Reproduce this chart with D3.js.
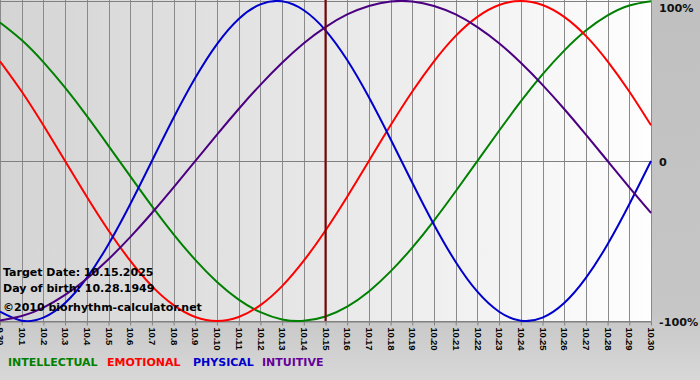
<!DOCTYPE html>
<html><head><meta charset="utf-8">
<script src="https://cdn.jsdelivr.net/npm/d3@7"></script>
<style>html,body{margin:0;padding:0;background:#c4c4c4;}svg{display:block;}</style>
</head><body><svg id="c" width="700" height="380"></svg>
<script>
const days = ["9.30","10.1","10.2","10.3","10.4","10.5","10.6","10.7","10.8","10.9","10.10","10.11","10.12","10.13","10.14","10.15","10.16","10.17","10.18","10.19","10.20","10.21","10.22","10.23","10.24","10.25","10.26","10.27","10.28","10.29","10.30"];
const intellectual = [0.866,0.756,0.618,0.458,0.282,0.095,-0.095,-0.282,-0.458,-0.618,-0.756,-0.866,-0.945,-0.990,-0.999,-0.972,-0.910,-0.815,-0.690,-0.541,-0.372,-0.189,0,0.189,0.372,0.541,0.690,0.815,0.910,0.972,0.999];
const emotional = [0.623,0.434,0.223,0,-0.223,-0.434,-0.623,-0.782,-0.901,-0.975,-1.000,-0.975,-0.901,-0.782,-0.623,-0.434,-0.223,0,0.223,0.434,0.623,0.782,0.901,0.975,1.000,0.975,0.901,0.782,0.623,0.434,0.223];
const physical = [-0.942,-0.998,-0.979,-0.888,-0.731,-0.520,-0.270,0,0.270,0.520,0.731,0.888,0.979,0.998,0.942,0.817,0.631,0.398,0.136,-0.136,-0.398,-0.631,-0.817,-0.942,-0.998,-0.979,-0.888,-0.731,-0.520,-0.270,0];
const intuitive = [-0.997,-0.969,-0.916,-0.837,-0.736,-0.614,-0.476,-0.325,-0.165,0,0.165,0.325,0.476,0.614,0.736,0.837,0.916,0.969,0.997,0.997,0.969,0.916,0.837,0.736,0.614,0.476,0.325,0.165,0,-0.165,-0.325];
const yTicks = [1, 0, -1];
const yTickLabels = ["100%", "0", "-100%"];
const targetDay = "10.15";
const infoLines = ["Target Date: 10.15.2025", "Day of birth: 10.28.1949", "©2010 biorhythm-calculator.net"];
const seriesNames = ["INTELLECTUAL", "EMOTIONAL", "PHYSICAL", "INTUITIVE"];

const svg = d3.select("#c");
const W = 700, H = 380;
const L = 0, R = 651, T = 1, B = 321;

const defs = svg.append("defs");
const bg = defs.append("linearGradient").attr("id","bg").attr("x1",0).attr("y1",0).attr("x2",0).attr("y2",1);
bg.append("stop").attr("offset","0").attr("stop-color","#c0c0c0");
bg.append("stop").attr("offset","0.82").attr("stop-color","#c6c6c6");
bg.append("stop").attr("offset","1").attr("stop-color","#d8d8d8");
const pg = defs.append("linearGradient").attr("id","pg").attr("x1",0).attr("y1",0).attr("x2",1).attr("y2",0);
pg.append("stop").attr("offset","0").attr("stop-color","#d4d4d4");
pg.append("stop").attr("offset","0.5").attr("stop-color","#e8e8e8");
pg.append("stop").attr("offset","1").attr("stop-color","#fefefe");

svg.append("rect").attr("width",W).attr("height",H).attr("fill","url(#bg)");
svg.append("rect").attr("x",L).attr("y",0).attr("width",R-L).attr("height",B).attr("fill","url(#pg)");

const x = d3.scalePoint().domain(days).range([L, R]);
const y = d3.scaleLinear().domain([-1, 1]).range([B, T]);

// vertical grid
svg.append("g").selectAll("line").data(days).join("line")
  .attr("x1", d => Math.round(x(d)) + 0.5).attr("x2", d => Math.round(x(d)) + 0.5)
  .attr("y1", 0).attr("y2", B)
  .attr("stroke", "#8a8a8a").attr("stroke-width", 1);
// horizontal lines
svg.append("g").selectAll("line").data(yTicks).join("line")
  .attr("x1", L).attr("x2", R)
  .attr("y1", d => Math.round(y(d)) + 0.5).attr("y2", d => Math.round(y(d)) + 0.5)
  .attr("stroke", "#808080");

// x axis
const xAxis = svg.append("g").attr("transform", `translate(0,${B + 0.5})`)
  .call(d3.axisBottom(x).tickSize(4).tickSizeOuter(0));
xAxis.select(".domain").attr("stroke", "#808080");
xAxis.selectAll(".tick line").attr("stroke", "#808080");
xAxis.selectAll(".tick text")
  .attr("transform", "rotate(90)")
  .attr("x", 6).attr("y", 0).attr("dy", "0.35em")
  .attr("text-anchor", "start")
  .attr("font-family", "'Liberation Sans', Arial, sans-serif")
  .attr("font-weight", "bold")
  .attr("font-size", 9.5).attr("letter-spacing", -0.2).attr("fill", "#000");

// y labels right
svg.append("g").selectAll("text").data(yTicks).join("text")
  .attr("x", 659).attr("y", d => Math.max(12, y(d) + 5))
  .attr("font-family", "'DejaVu Sans', Verdana, sans-serif")
  .attr("font-weight", "bold").attr("font-size", 11.2).attr("fill", "#111")
  .text((d, i) => yTickLabels[i]);

// series
const series = [
  {v: intellectual, c: "#008000"},
  {v: emotional, c: "#ff0000"},
  {v: physical, c: "#0000cc"},
  {v: intuitive, c: "#4b0082"}
];
const line = d3.line().x((d, i) => x(days[i])).y(d => y(d)).curve(d3.curveNatural);
const plot = svg.append("g");
plot.append("clipPath").attr("id","clip").append("rect").attr("x",L).attr("y",0).attr("width",R-L+1).attr("height",B+1);
plot.selectAll("path").data(series).join("path")
  .attr("clip-path","url(#clip)")
  .attr("d", d => line(d.v)).attr("fill", "none")
  .attr("stroke", d => d.c).attr("stroke-width", 2);

// target line
svg.append("line").attr("x1", x(targetDay)).attr("x2", x(targetDay))
  .attr("y1", 0).attr("y2", B).attr("stroke", "#800000").attr("stroke-width", 2);

// info text
svg.append("g").selectAll("text").data(infoLines).join("text")
  .attr("x", 3).attr("y", (d, i) => [276, 292, 311][i])
  .attr("font-family", "'DejaVu Sans', Verdana, sans-serif")
  .attr("font-weight", "bold").attr("font-size", 11).attr("fill", "#000")
  .text(d => d);

// legend
const legend = svg.append("g");
const lx = [8, 107, 193, 262];
legend.selectAll("text").data(seriesNames).join("text")
  .attr("x", (d, i) => lx[i]).attr("y", 366)
  .attr("font-family", "'DejaVu Sans', Verdana, sans-serif")
  .attr("font-weight", "bold").attr("font-size", 11)
  .attr("fill", (d, i) => ["#008000", "#ff0000", "#0000cc", "#660099"][i])
  .text(d => d);
</script></body></html>
